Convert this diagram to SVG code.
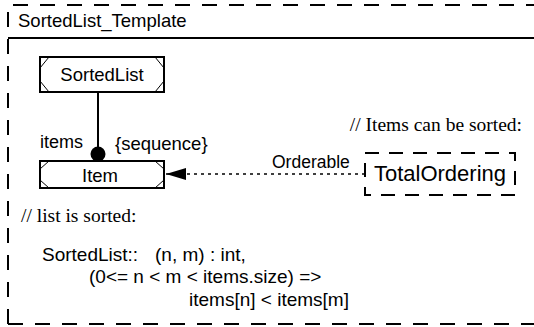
<svg xmlns="http://www.w3.org/2000/svg" width="534" height="327" viewBox="0 0 534 327">
<style>
.sans{font-family:"Liberation Sans",Arial,sans-serif;fill:#000}
.serif{font-family:"Liberation Serif","Times New Roman",serif;fill:#000}
.frame{fill:none;stroke:#000;stroke-width:2;stroke-dasharray:15 12}
.box{fill:#fff;stroke:#000;stroke-width:2}
.inner{fill:none;stroke:#000;stroke-width:1}
.dash{fill:none;stroke:#000;stroke-width:2;stroke-dasharray:14 10}
</style>
<defs>
<marker id="tri" viewBox="0 0 20 12" refX="20" refY="6" markerWidth="20" markerHeight="12" markerUnits="userSpaceOnUse" orient="auto">
<path d="M0,0 L20,6 L0,12 Z" fill="#000"/>
</marker>
</defs>
<rect width="534" height="327" fill="#fff"/>
<g id="frame">
<path class="frame" d="M8,324 V5 H534"/>
<path class="frame" d="M8,324 H534"/>
<line x1="8" y1="38" x2="534" y2="38" stroke="#000" stroke-width="2"/>
<text class="sans" x="18" y="27" font-size="18.5">SortedList_Template</text>
</g>
<g id="connectors">
<line x1="98" y1="92" x2="98" y2="154" stroke="#000" stroke-width="2"/>
<circle cx="98" cy="154" r="7.5" fill="#000"/>
<line x1="365" y1="174" x2="166" y2="174" stroke="#000" stroke-width="1.5" stroke-dasharray="3 4" marker-end="url(#tri)"/>
<text class="sans" x="40" y="148" font-size="18">items</text>
<text class="sans" x="115" y="150" font-size="18.5">{sequence}</text>
<text class="sans" x="272" y="168" font-size="17.5">Orderable</text>
</g>
<g id="SortedList">
<rect class="box" x="40" y="57" width="124" height="35"/>
<polygon class="inner" points="49,57 155,57 164,68 164,81 155,92 49,92 40,81 40,68"/>
<text class="sans" x="102" y="81" font-size="18.5" text-anchor="middle">SortedList</text>
</g>
<g id="Item">
<rect class="box" x="40" y="161" width="124" height="27"/>
<polygon class="inner" points="49,161 155,161 164,169 164,180 155,188 49,188 40,180 40,169"/>
<text class="sans" x="100" y="182" font-size="18.5" text-anchor="middle">Item</text>
</g>
<g id="TotalOrdering">
<rect class="dash" x="365" y="153" width="150" height="42" fill="#fff"/>
<text class="sans" x="440" y="181" font-size="22" text-anchor="middle">TotalOrdering</text>
<text class="serif" x="522" y="131" font-size="19.5" text-anchor="end">// Items can be sorted:</text>
</g>
<g id="constraint">
<text class="serif" x="21" y="222" font-size="19.5">// list is sorted:</text>
<text class="sans" x="42" y="261" font-size="19">SortedList::</text>
<text class="sans" x="155" y="261" font-size="19">(n, m) : int,</text>
<text class="sans" x="89" y="283" font-size="19">(0&lt;= n &lt; m &lt; items.size) =&gt;</text>
<text class="sans" x="189" y="306" font-size="19">items[n] &lt; items[m]</text>
</g>
</svg>
